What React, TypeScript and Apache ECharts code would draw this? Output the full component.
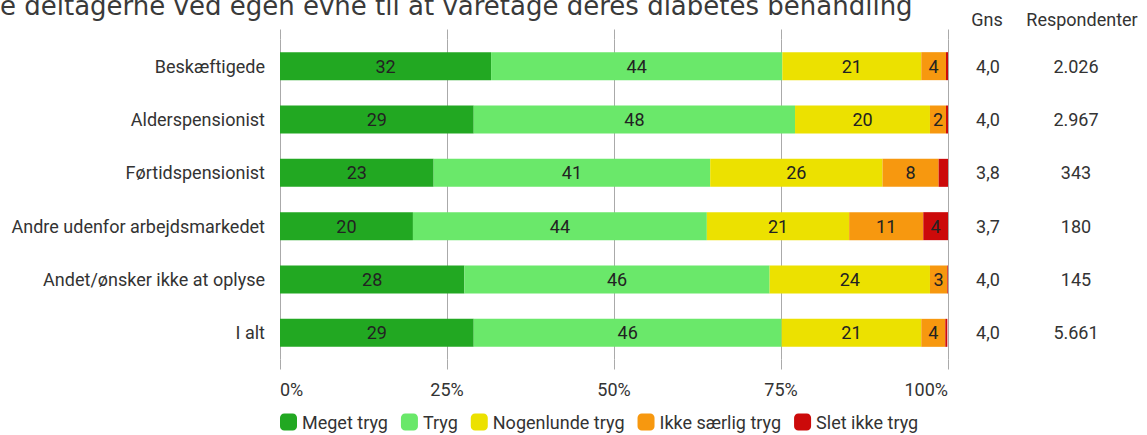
import React, { useEffect, useRef } from "react";
import * as echarts from "echarts";

const categories = [
  "Beskæftigede",
  "Alderspensionist",
  "Førtidspensionist",
  "Andre udenfor arbejdsmarkedet",
  "Andet/ønsker ikke at oplyse",
  "I alt",
];
const seriesNames = ["Meget tryg", "Tryg", "Nogenlunde tryg", "Ikke særlig tryg", "Slet ikke tryg"];
const megetTryg = [31.6, 29.0, 23.0, 19.9, 27.6, 29.0];
const tryg = [43.6, 48.1, 41.4, 44.0, 45.7, 46.1];
const nogenlunde = [20.8, 20.2, 25.8, 21.3, 24.0, 20.9];
const ikkeSaerlig = [3.7, 2.4, 8.4, 11.1, 2.6, 3.6];
const sletIkke = [0.3, 0.3, 1.4, 3.7, 0.1, 0.3];
const gns = ["4,0", "4,0", "3,8", "3,7", "4,0", "4,0"];
const respondenter = ["2.026", "2.967", "343", "180", "145", "5.661"];
const columnHeaders = ["Gns", "Respondenter"];
const titleText = "e deltagerne ved egen evne til at varetage deres diabetes behandling";

const colors = ["#22a822", "#6ae86a", "#ece100", "#f7980f", "#cc0a0a"];

export default function App() {
  const ref = useRef<HTMLDivElement>(null);
  useEffect(() => {
    if (!ref.current) return;
    const chart = echarts.init(ref.current, undefined, { renderer: "svg" });
    const font = "Roboto";
    const fs = 18;
    const values = [megetTryg, tryg, nogenlunde, ikkeSaerlig, sletIkke];
    const series = values.map((arr, i) => ({
      name: seriesNames[i],
      type: "bar",
      stack: "total",
      barWidth: 28,
      xAxisIndex: 0,
      yAxisIndex: 0,
      itemStyle: { color: colors[i] },
      label: {
        show: true,
        position: "inside",
        color: "#222",
        fontFamily: font,
        fontSize: fs,
        formatter: (p: any) => (p.value >= 1.5 ? String(Math.round(p.value)) : ""),
      },
      data: arr,
    }));
    chart.setOption({
      animation: false,
      textStyle: { fontFamily: font },
      grid: { left: 280, right: 199, top: 39.5, bottom: 75.5 },
      legend: {
        left: 275,
        top: 408,
        itemWidth: 17,
        itemHeight: 17,
        itemGap: 13,
        icon: "roundRect",
        textStyle: { fontFamily: font, fontSize: fs, color: "#333", padding: [0, 0, 0, 0] },
        data: seriesNames,
      },
      xAxis: [
        {
          type: "value",
          min: 0,
          max: 100,
          interval: 25,
          position: "bottom",
          axisLine: { show: false },
          axisTick: { show: true, length: 10, lineStyle: { color: "#aaa" } },
          splitLine: { show: true, lineStyle: { color: "#aaa", width: 1 } },
          axisLabel: {
            formatter: "{value}%",
            fontFamily: font,
            fontSize: fs,
            color: "#333",
            margin: 21,
            alignMinLabel: "left",
            alignMaxLabel: "right",
          },
        },
        {
          type: "value",
          min: 0,
          max: 100,
          interval: 25,
          position: "top",
          axisLine: { show: false },
          axisTick: { show: true, length: 10, lineStyle: { color: "#aaa" } },
          splitLine: { show: false },
          axisLabel: { show: false },
        },
      ],
      yAxis: [
        {
          type: "category",
          inverse: true,
          data: categories,
          axisLine: { show: false },
          axisTick: { show: false },
          axisLabel: { fontFamily: font, fontSize: fs, color: "#333", margin: 15 },
        },
        {
          type: "category",
          inverse: true,
          position: "right",
          data: gns,
          axisLine: { show: false },
          axisTick: { show: false },
          axisLabel: { fontFamily: font, fontSize: fs, color: "#333", margin: 40, align: "center" },
        },
        {
          type: "category",
          inverse: true,
          position: "right",
          data: respondenter,
          axisLine: { show: false },
          axisTick: { show: false },
          axisLabel: { fontFamily: font, fontSize: fs, color: "#333", margin: 128, align: "center" },
        },
      ],
      graphic: [
        {
          type: "text",
          x: 0,
          y: 5.5,
          style: {
            text: titleText,
            fontFamily: "DejaVu Sans",
            fontSize: 26,
            fill: "#3a3a3a",
            verticalAlign: "middle",
          },
        },
        {
          type: "text",
          x: 987,
          y: 19,
          style: { text: columnHeaders[0], fontFamily: font, fontSize: fs, fill: "#333", align: "center", verticalAlign: "middle" },
        },
        {
          type: "text",
          x: 1082,
          y: 19,
          style: { text: columnHeaders[1], fontFamily: font, fontSize: fs, fill: "#333", align: "center", verticalAlign: "middle" },
        },
      ],
      series,
    });
    return () => chart.dispose();
  }, []);
  return <div ref={ref} style={{ width: 1147, height: 435, position: "absolute", left: 0, top: 0 }} />;
}
